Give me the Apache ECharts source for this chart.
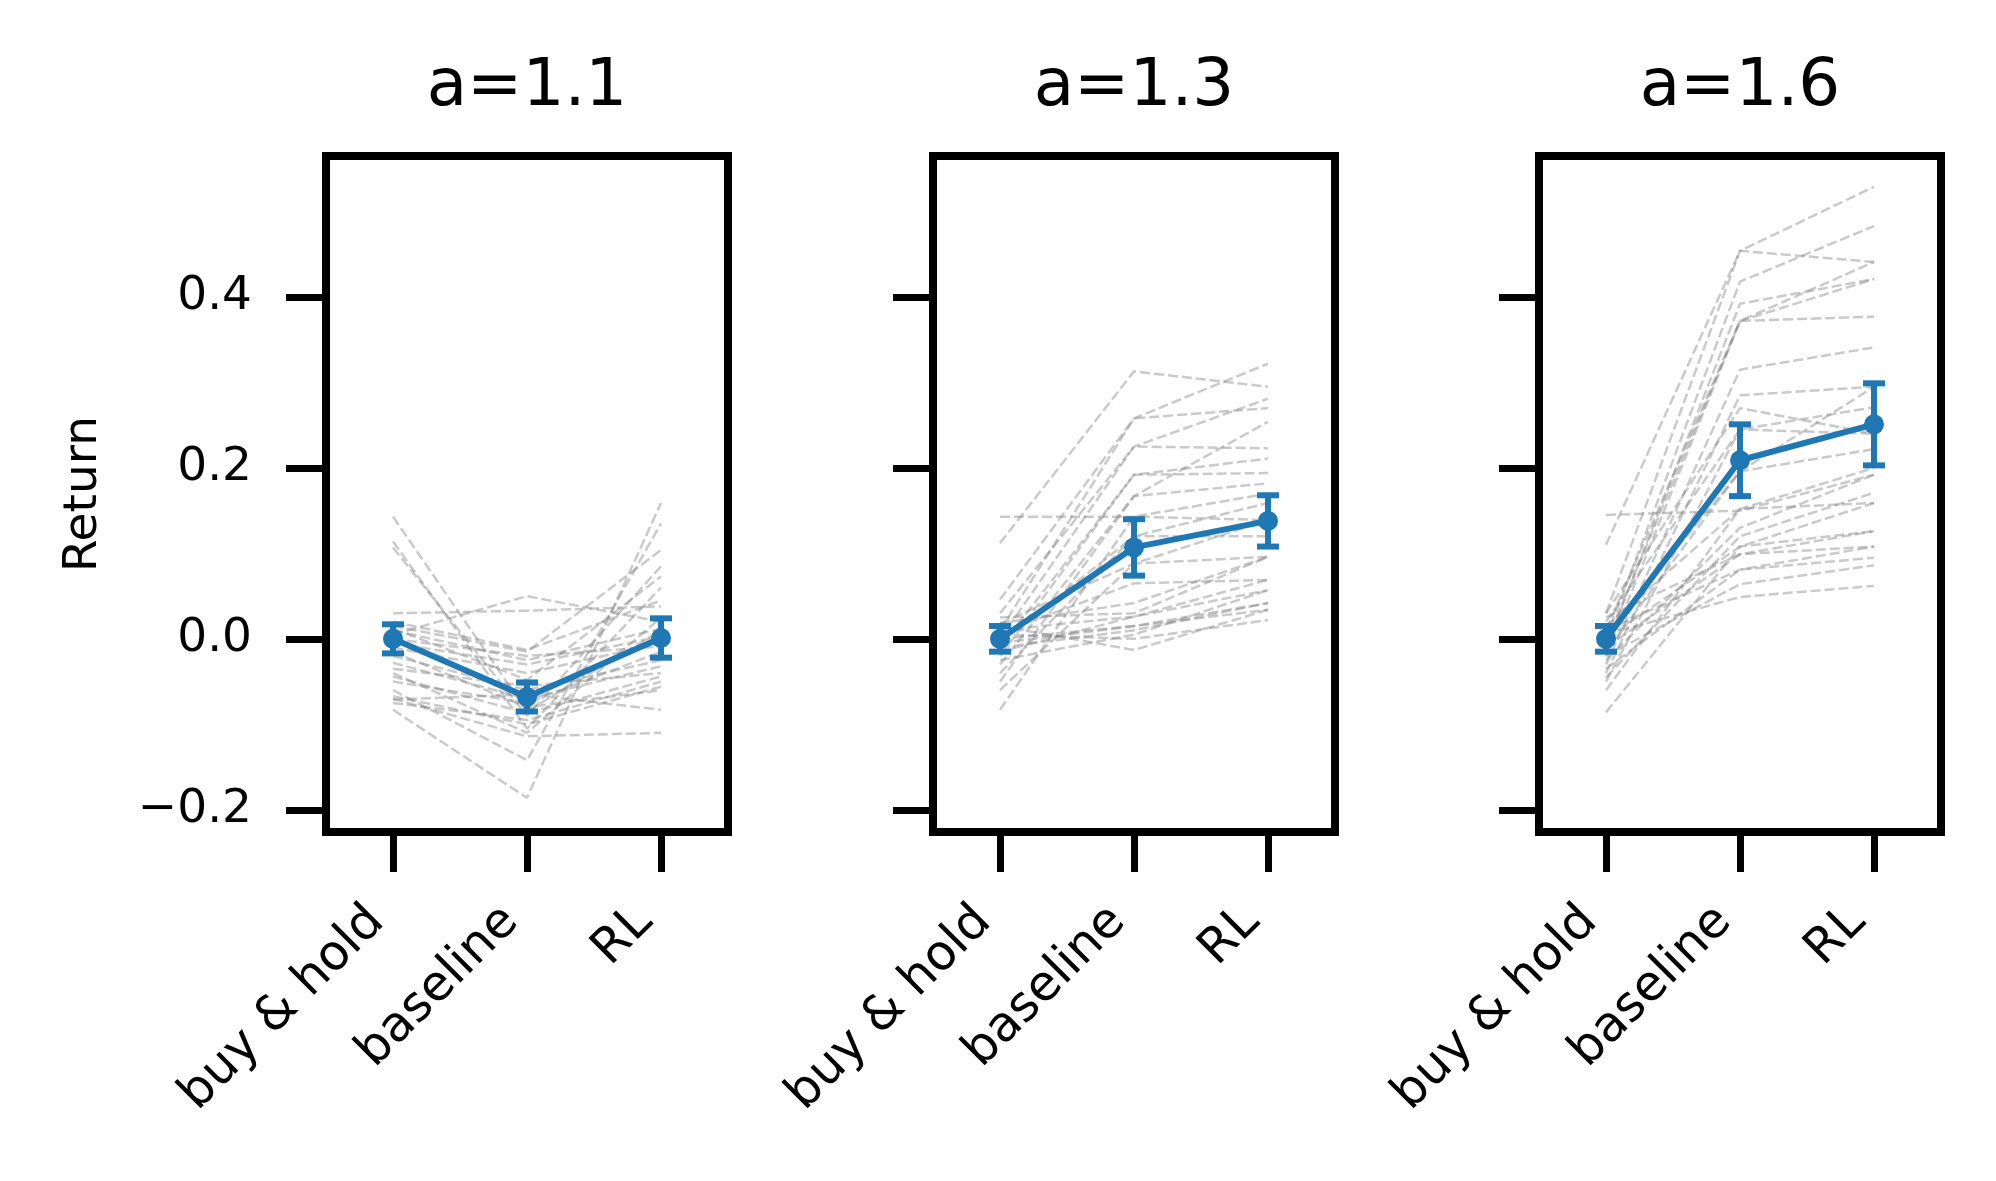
<!DOCTYPE html>
<html>
<head>
<meta charset="utf-8">
<title>Return by strategy</title>
<script src="https://cdn.jsdelivr.net/npm/echarts@6/dist/echarts.min.js"></script>
<style>
  html, body { margin: 0; padding: 0; background: #fff; }
  #chart { width: 1996px; height: 1181px; }
</style>
</head>
<body>
<div id="chart"></div>
<script>
// ---- data ----
var categories = ['buy & hold', 'baseline', 'RL'];
var panelTitles = ['a=1.1', 'a=1.3', 'a=1.6'];
var yTicks = [-0.2, 0.0, 0.2, 0.4];

// mean return per strategy (blue line) and half-width of error bar
var means1 = [0.000, -0.068, 0.001];
var errs1 = [0.017, 0.017, 0.023];
var means2 = [0.000, 0.107, 0.138];
var errs2 = [0.015, 0.033, 0.030];
var means3 = [0.000, 0.209, 0.251];
var errs3 = [0.015, 0.042, 0.048];

// individual runs (grey dashed), [buy & hold, baseline, RL]
var runs1 = [
  [0.143, -0.085, 0.010], [0.114, -0.105, 0.060], [0.107, -0.090, 0.085],
  [0.030, 0.033, 0.038], [0.005, 0.050, 0.020], [-0.083, -0.186, 0.159],
  [-0.060, -0.142, 0.135], [-0.070, -0.114, -0.110], [0.015, -0.015, 0.104],
  [0.012, -0.048, 0.073], [0.000, -0.020, -0.009], [-0.005, -0.030, 0.003],
  [-0.020, -0.060, -0.025], [-0.028, -0.070, -0.032], [-0.044, -0.087, -0.044],
  [-0.067, -0.100, -0.056], [-0.071, -0.065, -0.083], [-0.050, -0.075, -0.015],
  [-0.035, -0.055, -0.040], [-0.010, -0.040, -0.005], [0.010, -0.025, 0.012],
  [-0.075, -0.095, -0.050], [-0.040, -0.110, 0.025], [-0.015, -0.080, -0.060],
  [0.020, -0.013, 0.045]
];
var runs2 = [
  [0.143, 0.143, 0.139], [0.112, 0.313, 0.295], [0.046, 0.258, 0.322],
  [0.030, 0.225, 0.281], [0.010, 0.258, 0.270], [0.000, 0.225, 0.223],
  [-0.010, 0.192, 0.211], [-0.020, 0.192, 0.194], [-0.030, 0.167, 0.182],
  [-0.050, 0.167, 0.254], [-0.083, 0.143, 0.170], [-0.040, 0.120, 0.159],
  [-0.005, 0.120, 0.120], [0.018, 0.088, 0.139], [-0.060, 0.088, 0.096],
  [0.007, 0.065, 0.069], [0.018, 0.042, 0.096], [-0.015, 0.026, 0.069],
  [0.010, 0.026, 0.057], [0.000, 0.015, 0.042], [-0.005, 0.015, 0.034],
  [0.005, 0.000, 0.022], [-0.025, 0.005, 0.057], [0.015, -0.013, 0.034],
  [-0.010, 0.010, 0.042], [0.025, 0.030, 0.096]
];
var runs3 = [
  [0.145, 0.150, 0.192], [0.110, 0.454, 0.441], [0.030, 0.454, 0.529],
  [0.000, 0.418, 0.483], [-0.010, 0.392, 0.421], [-0.020, 0.372, 0.441],
  [-0.005, 0.372, 0.377], [0.010, 0.372, 0.421], [-0.030, 0.315, 0.341],
  [-0.040, 0.285, 0.295], [0.020, 0.245, 0.271], [-0.050, 0.245, 0.240],
  [-0.015, 0.196, 0.295], [0.005, 0.196, 0.222], [-0.060, 0.152, 0.200],
  [0.015, 0.152, 0.159], [-0.025, 0.130, 0.192], [-0.086, 0.108, 0.126],
  [0.000, 0.108, 0.159], [-0.010, 0.099, 0.126], [0.025, 0.099, 0.108],
  [-0.035, 0.081, 0.095], [0.010, 0.081, 0.108], [-0.020, 0.064, 0.086],
  [0.005, 0.049, 0.062], [-0.045, 0.120, 0.171], [0.030, 0.270, 0.240]
];

// ---- layout ----
var FONT = 'DejaVu Sans';
var BLUE = '#1f77b4';
var gridLeft = [326, 933, 1539];
var gridTop = 156, gridW = 402, gridH = 676;
var yMin = -0.226, yMax = 0.565;

var allMeans = [means1, means2, means3];
var allErrs = [errs1, errs2, errs3];
var allRuns = [runs1, runs2, runs3];

function fmt(v) {
  var s = Math.abs(v).toFixed(1);
  return v < -1e-9 ? '\u2212' + s : s;
}

var grids = [], xAxes = [], yAxes = [], series = [], texts = [];

for (var p = 0; p < 3; p++) {
  grids.push({
    left: gridLeft[p], top: gridTop, width: gridW, height: gridH,
    show: true, borderColor: '#000', borderWidth: 8, backgroundColor: '#fff'
  });
  xAxes.push({
    type: 'category', gridIndex: p, data: categories, boundaryGap: true,
    axisLine: { show: false, onZero: false },
    axisTick: { show: true, alignWithLabel: true, length: 40, lineStyle: { color: '#000', width: 7 } },
    axisLabel: {
      rotate: 45, interval: 0, fontSize: 49, fontFamily: FONT, color: '#000',
      margin: 66, padding: [0, 23, 0, 0]
    },
    splitLine: { show: false }
  });
  yAxes.push({
    type: 'value', gridIndex: p, min: yMin, max: yMax,
    name: p === 0 ? 'Return' : '',
    nameLocation: 'middle', nameRotate: 90, nameGap: 219,
    nameTextStyle: { fontSize: 47, fontFamily: FONT, color: '#000' },
    axisLine: { show: false },
    axisTick: { show: true, customValues: yTicks, length: 40, lineStyle: { color: '#000', width: 7 } },
    axisLabel: {
      show: p === 0, customValues: yTicks, formatter: fmt,
      fontSize: 47, fontFamily: FONT, color: '#000', margin: 74
    },
    splitLine: { show: false }
  });

  allRuns[p].forEach(function (r) {
    series.push({
      type: 'line', xAxisIndex: p, yAxisIndex: p, data: r,
      symbol: 'none', silent: true, z: 2,
      lineStyle: { color: 'rgba(128,128,128,0.42)', width: 2.5, type: [10, 4] }
    });
  });

  series.push({
    type: 'line', xAxisIndex: p, yAxisIndex: p, data: allMeans[p],
    symbol: 'circle', symbolSize: 20, z: 5,
    itemStyle: { color: BLUE }, lineStyle: { color: BLUE, width: 6 }
  });

  var ebData = allMeans[p].map(function (m, i) {
    return [i, m - allErrs[p][i], m + allErrs[p][i]];
  });
  series.push({
    type: 'custom', xAxisIndex: p, yAxisIndex: p, data: ebData, z: 6,
    renderItem: function (params, api) {
      var lo = api.coord([api.value(0), api.value(1)]);
      var hi = api.coord([api.value(0), api.value(2)]);
      var cap = 11;
      var st = { stroke: BLUE, lineWidth: 6 };
      return {
        type: 'group', children: [
          { type: 'line', shape: { x1: hi[0], y1: hi[1], x2: lo[0], y2: lo[1] }, style: st },
          { type: 'line', shape: { x1: hi[0] - cap, y1: hi[1], x2: hi[0] + cap, y2: hi[1] }, style: st },
          { type: 'line', shape: { x1: lo[0] - cap, y1: lo[1], x2: lo[0] + cap, y2: lo[1] }, style: st }
        ]
      };
    }
  });

  texts.push({
    type: 'text', x: gridLeft[p] + gridW / 2, y: 88,
    style: { text: panelTitles[p], font: '66px "DejaVu Sans"', fill: '#000', textAlign: 'center', textVerticalAlign: 'middle' }
  });
}

var chart = echarts.init(document.getElementById('chart'));
chart.setOption({
  animation: false,
  backgroundColor: '#fff',
  grid: grids,
  xAxis: xAxes,
  yAxis: yAxes,
  series: series,
  graphic: texts
});
</script>
</body>
</html>
